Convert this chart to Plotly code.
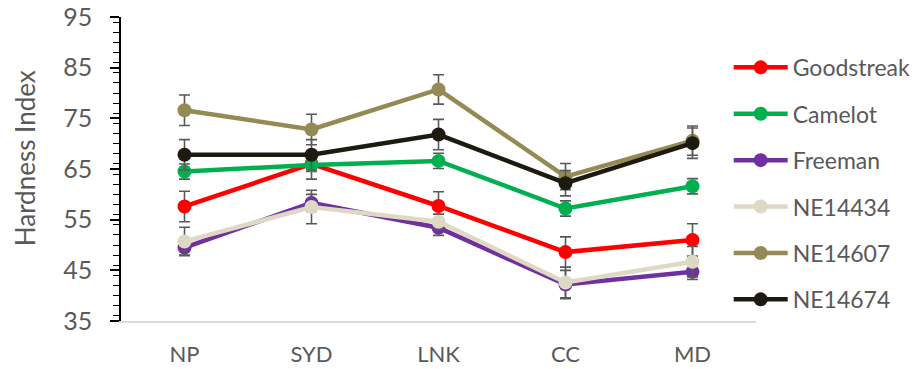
import plotly.graph_objects as go

sites = ["NP", "SYD", "LNK", "CC", "MD"]

goodstreak = [57.6, 66.0, 57.7, 48.6, 51.0]
goodstreak_err = [3.0, 1.5, 2.8, 3.0, 3.2]
camelot = [64.5, 65.8, 66.6, 57.2, 61.6]
camelot_err = [1.5, 2.8, 1.5, 1.5, 1.5]
freeman = [49.5, 58.3, 53.4, 42.2, 44.7]
freeman_err = [1.5, 1.7, 1.5, 2.8, 1.5]
ne14434 = [50.7, 57.5, 54.6, 42.6, 46.7]
ne14434_err = [2.8, 3.3, 1.5, 3.0, 3.0]
ne14607 = [76.6, 72.8, 80.7, 63.5, 70.6]
ne14607_err = [3.0, 3.0, 2.9, 2.6, 2.9]
ne14674 = [67.8, 67.8, 71.8, 62.2, 70.1]
ne14674_err = [3.0, 3.0, 3.0, 2.5, 3.0]

series = [
    ("Goodstreak", goodstreak, goodstreak_err, "#FF0000"),
    ("Camelot", camelot, camelot_err, "#00B050"),
    ("Freeman", freeman, freeman_err, "#7030A0"),
    ("NE14434", ne14434, ne14434_err, "#DDD9C4"),
    ("NE14607", ne14607, ne14607_err, "#948A54"),
    ("NE14674", ne14674, ne14674_err, "#1D1B10"),
]

FONT = "Lato"
GRAY = "#595959"

fig = go.Figure()
for name, vals, errs, col in series:
    fig.add_trace(go.Scatter(
        x=sites, y=vals, name=name, legendgroup=name,
        mode="lines+markers",
        line=dict(color=col, width=4.5),
        marker=dict(color=col, size=14),
        error_y=dict(type="data", array=errs, visible=True,
                     color=GRAY, thickness=1.6, width=5.5),
    ))

fig.add_annotation(
    text="Hardness Index", textangle=-90,
    xref="paper", yref="paper",
    x=-0.152, y=0.537, xanchor="center", yanchor="middle",
    showarrow=False,
    font=dict(family=FONT, size=26, color=GRAY),
)

fig.update_layout(
    width=915, height=361,
    margin=dict(l=113, r=166.5, t=9, b=48, autoexpand=False),
    paper_bgcolor="white", plot_bgcolor="white",
    font=dict(family=FONT, color=GRAY, size=22),
    legend=dict(
        x=0.957, xanchor="left", y=0.905, yanchor="top",
        font=dict(family=FONT, size=23, color=GRAY),
        itemwidth=54, tracegroupgap=13.5,
        bgcolor="rgba(0,0,0,0)",
    ),
    xaxis=dict(
        type="category", range=[-0.5, 4.5],
        showline=True, linecolor="#D9D9D9", linewidth=1.5,
        ticks="", showgrid=False, zeroline=False,
        ticklabelstandoff=13,
        tickfont=dict(family=FONT, size=22, color=GRAY),
    ),
    yaxis=dict(
        range=[35, 95], dtick=10, tick0=35,
        showline=True, linecolor="black", linewidth=1.5,
        ticks="outside", ticklen=9, tickwidth=1.5, tickcolor="black",
        ticklabelstandoff=13, ticklabeloverflow="allow",
        minor=dict(dtick=2, ticks="outside", ticklen=6, tickwidth=1.2, tickcolor="black", showgrid=False),
        showgrid=False, zeroline=False,
        tickfont=dict(family=FONT, size=25, color=GRAY),
    ),
)

fig.write_html("out.html")
